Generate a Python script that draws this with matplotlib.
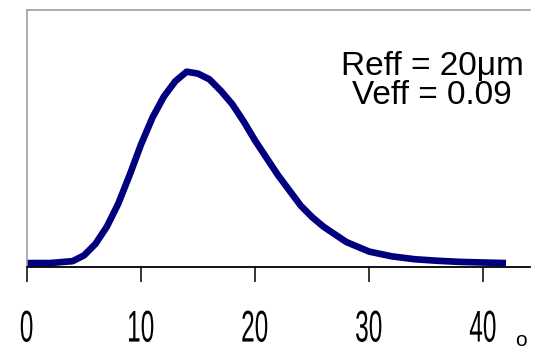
import numpy as np
import matplotlib.pyplot as plt
from matplotlib.patheffects import AbstractPathEffect
from matplotlib.transforms import Affine2D

# droplet size distribution (normalised to peak = 1)
radius = [0, 2, 4, 5, 6, 7, 8, 9, 10, 11, 12, 13, 14, 15, 16, 17, 18, 19,
          20, 21, 22, 23, 24, 25, 26, 28, 30, 32, 34, 36, 38, 40, 42]
density = [0, 0, 0.01, 0.04, 0.10, 0.19, 0.31, 0.46, 0.62, 0.76, 0.87, 0.95,
           1.0, 0.99, 0.96, 0.90, 0.83, 0.74, 0.64, 0.55, 0.46, 0.38, 0.30,
           0.24, 0.19, 0.11, 0.06, 0.035, 0.02, 0.012, 0.006, 0.003, 0.0]
ticks = [0, 10, 20, 30, 40]
label_lines = ['Reff = 20\u03bcm', 'Veff = 0.09']


class Squeeze(AbstractPathEffect):
    # squeeze glyphs horizontally around their centre (narrow tick font)
    def __init__(self, sx):
        super().__init__()
        self.sx = sx

    def draw_path(self, renderer, gc, tpath, affine, rgbFace=None):
        xs = tpath.vertices[:, 0]
        cx = (xs.min() + xs.max()) / 2 if len(xs) else 0
        squeeze = Affine2D().translate(-cx, 0).scale(self.sx, 1).translate(cx, 0)
        renderer.draw_path(gc, tpath, squeeze + affine, rgbFace)


fig = plt.figure(figsize=(5.52, 3.51), dpi=100)
ax = fig.add_axes([0.0489, 0.2407, 0.9112, 0.7308])

ax.plot(radius, density, color='#00007f', linewidth=4.8, solid_capstyle='butt')

ax.set_xlim(0, 44.1)
ax.set_ylim(-0.018, 1.3225)

# frame: grey top/left, black bottom axis, nothing on the right
ax.spines['right'].set_visible(False)
ax.spines['top'].set_color('#a0a0a0')
ax.spines['left'].set_color('#a0a0a0')
ax.spines['top'].set_linewidth(1.2)
ax.spines['left'].set_linewidth(1.2)
ax.spines['bottom'].set_color('black')
ax.spines['bottom'].set_linewidth(1.3)

ax.set_yticks([])
ax.set_xticks(ticks)
labels = ax.set_xticklabels([str(t) for t in ticks],
                            family=['Liberation Sans', 'DejaVu Sans'], fontsize=32)
for lab in labels:
    lab.set_path_effects([Squeeze(0.55)])
ax.tick_params(axis='x', direction='out', length=11, width=1.1, pad=20, colors='black')

# small marker right of the axis labels
fig.text(521 / 552, 1 - 346 / 351, 'o', ha='center', va='baseline',
         family=['Liberation Sans', 'DejaVu Sans'], fontsize=15)

fig.text(432 / 552, 1 - 81 / 351, '\n'.join(label_lines), ha='center', va='center',
         multialignment='center', linespacing=0.88,
         family=['Liberation Sans', 'DejaVu Sans'], fontsize=24)

fig.savefig('out.png', dpi=100)
